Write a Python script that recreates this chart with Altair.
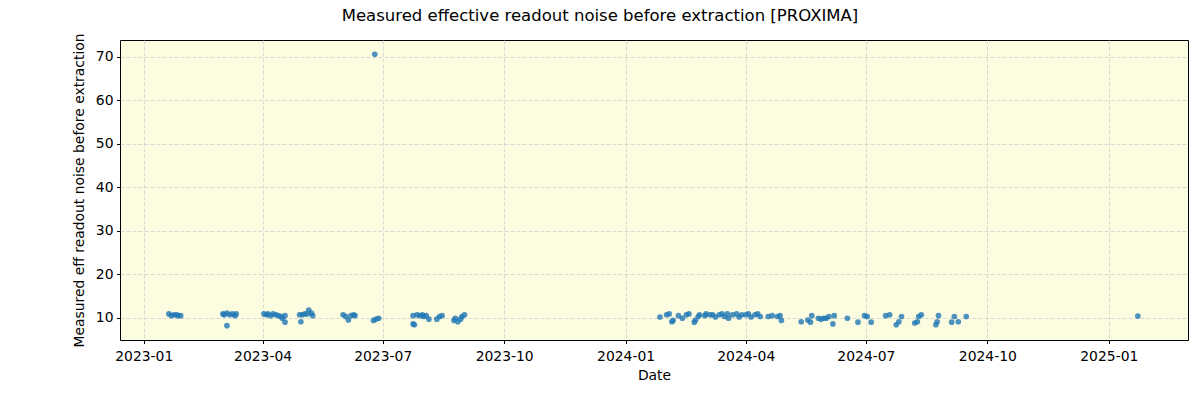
import altair as alt
import pandas as pd

dates = [
    # 2023
    "2023-01-20", "2023-01-22", "2023-01-24", "2023-01-26", "2023-01-27", "2023-01-29",
    "2023-03-02", "2023-03-03", "2023-03-05", "2023-03-07", "2023-03-09", "2023-03-11", "2023-03-12", "2023-03-05",
    "2023-04-02", "2023-04-04", "2023-04-05", "2023-04-07", "2023-04-09", "2023-04-11", "2023-04-13",
    "2023-04-15", "2023-04-16", "2023-04-18", "2023-04-18",
    "2023-04-29", "2023-04-30", "2023-05-01", "2023-05-03", "2023-05-05", "2023-05-06", "2023-05-08", "2023-05-09",
    "2023-06-01", "2023-06-03", "2023-06-05", "2023-06-07", "2023-06-09", "2023-06-10",
    "2023-06-24", "2023-06-25", "2023-06-26", "2023-06-28",
    "2023-07-24", "2023-07-24", "2023-07-25", "2023-07-27", "2023-07-29", "2023-07-31", "2023-08-01", "2023-08-03",
    "2023-08-05", "2023-08-11", "2023-08-13", "2023-08-15",
    "2023-08-24", "2023-08-25", "2023-08-27", "2023-08-29", "2023-08-30", "2023-09-01",
    # 2024
    "2024-01-27", "2024-02-01", "2024-02-03", "2024-02-05", "2024-02-06", "2024-02-10", "2024-02-13",
    "2024-02-16", "2024-02-18", "2024-02-22", "2024-02-23", "2024-02-25", "2024-02-26", "2024-03-01",
    "2024-03-02", "2024-03-05", "2024-03-07", "2024-03-09", "2024-03-12", "2024-03-14", "2024-03-16",
    "2024-03-18", "2024-03-19", "2024-03-22", "2024-03-25", "2024-03-27", "2024-03-29", "2024-04-01",
    "2024-04-03", "2024-04-05", "2024-04-08", "2024-04-10", "2024-04-12", "2024-04-18", "2024-04-21",
    "2024-04-25", "2024-04-27", "2024-04-28",
    "2024-05-13", "2024-05-18", "2024-05-20", "2024-05-21", "2024-05-26", "2024-05-28", "2024-05-30",
    "2024-06-01", "2024-06-03", "2024-06-06", "2024-06-07", "2024-06-17", "2024-06-25", "2024-06-30",
    "2024-07-02", "2024-07-05", "2024-07-16", "2024-07-19", "2024-07-24", "2024-07-26", "2024-07-28",
    "2024-08-07", "2024-08-09", "2024-08-10", "2024-08-12", "2024-08-23", "2024-08-24", "2024-08-25",
    "2024-09-04", "2024-09-06", "2024-09-09", "2024-09-15",
    # 2025
    "2025-01-23",
]

noise = [
    10.9, 10.5, 10.7, 10.7, 10.5, 10.5,
    10.9, 10.7, 11.1, 10.7, 10.9, 10.5, 10.9, 8.2,
    10.9, 10.7, 10.9, 10.5, 10.9, 10.7, 10.5,
    10.3, 9.9, 10.5, 9.0,
    10.7, 9.1, 10.7, 10.9, 10.9, 11.8, 11.1, 10.5,
    10.7, 10.3, 9.5, 10.5, 10.7, 10.5,
    9.4, 70.6, 9.7, 9.9,
    10.5, 8.6, 8.4, 10.7, 10.5, 10.7, 10.3, 10.5,
    9.7, 9.7, 10.3, 10.5,
    9.4, 9.9, 9.1, 9.7, 10.3, 10.7,
    10.2, 10.7, 10.9, 9.1, 9.4, 10.5, 9.9,
    10.7, 10.9, 9.0, 9.5, 10.3, 10.7, 10.5,
    10.9, 10.7, 10.7, 10.2, 10.7, 10.9, 10.3,
    10.9, 9.9, 10.7, 10.9, 10.2, 10.7, 10.7,
    10.9, 10.2, 10.7, 10.9, 10.3, 10.3, 10.5,
    10.3, 10.5, 9.4,
    9.1, 9.5, 9.0, 10.5, 9.9, 9.7, 9.9,
    9.9, 10.3, 8.6, 10.5, 9.9, 9.0, 10.5,
    10.3, 9.0, 10.5, 10.7, 8.4, 9.1, 10.3,
    8.8, 9.1, 10.3, 10.7, 8.4, 9.1, 10.5,
    9.0, 10.3, 9.1, 10.3,
    10.4,
]

tick_dates = [(2023, 1), (2023, 4), (2023, 7), (2023, 10), (2024, 1), (2024, 4), (2024, 7), (2024, 10), (2025, 1)]
y_ticks = [10, 20, 30, 40, 50, 60, 70]

df = pd.DataFrame({"date": dates, "noise": noise})

FONT = "DejaVu Sans"

chart = alt.Chart(df).mark_circle(size=32, color="#1f77b4", opacity=0.8).encode(
    x=alt.X(
        "date:T",
        title="Date",
        scale=alt.Scale(
            type="utc",
            domain=[alt.DateTime(year=2022, month=12, date=14, utc=True),
                    alt.DateTime(year=2025, month=3, date=2, utc=True)],
        ),
        axis=alt.Axis(
            values=[alt.DateTime(year=y, month=m, date=1, utc=True) for y, m in tick_dates],
            labelExpr="utcFormat(datum.value, '%Y-%m')",
            labelFlush=False,
            labelOverlap=False,
            labelPadding=5.5,
            titlePadding=6,
        ),
    ),
    y=alt.Y(
        "noise:Q",
        title="Measured eff readout noise before extraction",
        scale=alt.Scale(domain=[4.9, 73.9], nice=False, zero=False),
        axis=alt.Axis(values=y_ticks, titlePadding=9),
    ),
).properties(
    width=1068,
    height=300,
    background="white",
    autosize=alt.AutoSizeParams(type="none"),
    padding={"left": 120, "top": 40, "right": 12, "bottom": 60},
    title=alt.TitleParams(
        "Measured effective readout noise before extraction [PROXIMA]",
        fontSize=16.5,
        font=FONT,
        fontWeight="normal",
        color="black",
        anchor="middle",
        dx=-54,
        offset=8,
    ),
).configure_view(
    fill="#FCFCE1",
    stroke="black",
    strokeWidth=1,
).configure_axis(
    labelFont=FONT,
    titleFont=FONT,
    labelFontSize=13.9,
    titleFontSize=13.9,
    titleFontWeight="normal",
    labelColor="black",
    titleColor="black",
    tickColor="black",
    tickSize=3.5,
    labelPadding=3.5,
    domain=False,
    grid=True,
    gridColor="#cfcfcf",
    gridDash=[4, 2],
    gridWidth=0.8,
)

chart.save("out.html", embed_options={"renderer": "svg", "actions": False})
